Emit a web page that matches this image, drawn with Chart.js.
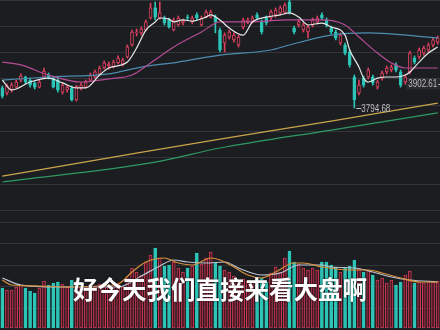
<!DOCTYPE html>
<html>
<head>
<meta charset="utf-8">
<script src="https://cdn.jsdelivr.net/npm/chart.js@4.4.1/dist/chart.umd.min.js"></script>
<style>
  html, body { margin: 0; padding: 0; background: #1c1d21; width: 440px; height: 330px; overflow: hidden; }
  #kline { position: absolute; left: 0; top: 0; width: 440px; height: 222px; }
  #vol { position: absolute; left: 0; top: 222px; width: 440px; height: 108px; }
  #caption {
    position: absolute; left: 0; top: 276px; width: 440px; text-align: center;
    color: #fff; font: bold 24.5px/25px "Noto Sans CJK SC", sans-serif;
    text-shadow: 0 0 2px rgba(0,0,0,0.8);
  }
</style>
</head>
<body>
<div id="kline"><canvas id="klineChart"></canvas></div>
<div id="vol"><canvas id="volChart"></canvas></div>
<div id="caption">好今天我们直接来看大盘啊</div>
<script>
// daily candles
const openP  = [3886,3863,3877,3890,3922,3936,3922,3909,3890,3936,3945,3931,3922,3867,3877,3886,3831,3886,3890,3922,
                3936,3950,3977,3986,3981,4000,3995,4027,4082,4137,4137,4150,4205,4251,4205,4205,4196,4150,4173,4182,
                4209,4187,4219,4173,4209,4209,4209,4150,4091,4118,4105,4082,4164,4187,4191,4219,4187,4205,4205,4219,
                4228,4232,4278,4159,4173,4150,4141,4173,4187,4219,4196,4159,4141,4091,4082,4050,3936,3863,3931,3936,
                3936,3890,3931,3959,3968,3991,3959,3913,3959,4022,4027,4045,4059,4082,4095];
const highP  = [3895,3904,3909,3922,3950,3940,3931,3913,3922,3977,3954,3940,3931,3909,3899,3895,3899,3909,3922,3954,
                3968,3986,4009,4004,4013,4032,4022,4082,4150,4155,4164,4196,4273,4278,4278,4214,4205,4205,4214,4200,
                4219,4214,4228,4214,4241,4241,4219,4159,4137,4150,4137,4127,4205,4205,4214,4228,4196,4214,4241,4251,
                4260,4273,4287,4168,4196,4182,4173,4205,4214,4228,4205,4168,4150,4137,4091,4059,3945,3922,3940,3977,
                3945,3922,3963,3986,3991,4000,3968,3945,4054,4032,4068,4077,4091,4114,4123];
const lowP   = [3840,3854,3867,3886,3913,3904,3890,3881,3886,3931,3927,3886,3867,3858,3867,3826,3826,3877,3886,3918,
                3931,3945,3972,3972,3977,3995,3986,4022,4077,4123,4127,4146,4200,4196,4200,4173,4159,4146,4168,4173,
                4196,4178,4196,4168,4205,4205,4137,4050,4050,4109,4095,4073,4155,4178,4182,4196,4132,4173,4196,4209,
                4219,4223,4223,4132,4164,4141,4114,4164,4178,4196,4164,4132,4105,4082,4036,3981,3794.68,3854,3890,3927,
                3899,3881,3922,3950,3959,3959,3890,3902.61,3950,3995,4018,4036,4050,4073,4086];
const closeP = [3849,3895,3899,3913,3940,3913,3899,3890,3913,3963,3936,3890,3877,3899,3890,3831,3895,3899,3913,3945,
                3959,3977,4000,3995,4004,4022,4013,4073,4141,4141,4155,4187,4251,4209,4228,4182,4164,4196,4205,4191,
                4205,4205,4205,4205,4232,4232,4187,4059,4127,4141,4127,4118,4196,4196,4205,4205,4141,4182,4232,4241,
                4251,4264,4232,4141,4187,4173,4164,4196,4205,4205,4173,4141,4114,4127,4045,3991,3831,3899,3899,3968,
                3909,3913,3954,3977,3981,3968,3899,3936,4045,4004,4059,4068,4082,4105,4114];
const volume = [2000,1900,1900,2050,2150,2000,1850,1750,2000,2350,2150,2250,2300,2200,2050,2400,2350,2050,2050,2150,
                2100,2200,2250,2150,2200,2250,2050,2500,3000,2800,2650,3300,3650,4000,3500,3100,3150,3300,3000,2800,
                3000,3100,3750,3200,3500,3800,3300,3100,2900,2800,2600,2400,2450,2350,2300,2400,2500,2300,2750,3050,
                2800,3500,3850,3300,3200,3000,2900,3000,2900,3300,3300,3150,3050,2800,3000,3100,3400,3000,2800,2900,
                2650,2400,2500,2250,2400,2150,2300,2650,2850,2250,2300,2250,2350,2300,2350];

// moving averages, [day index, value] read at the bends
const ma5Pts   = [[0,3922],[2,3877],[6,3913],[10,3931],[13,3909],[16,3886],[18,3886],[21,3945],[23,3977],[27,4004],
                  [29,4068],[31,4150],[33,4187],[34,4205],[36,4200],[37,4187],[39,4196],[41,4191],[44,4209],[45,4219],
                  [47,4196],[49,4159],[52,4127],[54,4187],[57,4209],[60,4219],[62,4228],[64,4209],[66,4173],[69,4182],
                  [71,4164],[74,4127],[75,4059],[77,3981],[78,3931],[79,3913],[81,3931],[83,3936],[85,3936],[87,3945],
                  [88,3959],[90,4004],[92,4045],[94,4073]];
const ma10Pts  = [[0,4004],[4,3991],[10,3945],[17,3913],[21,3922],[23,3927],[28,3945],[32,4000],[37,4073],[43,4141],
                  [47,4187],[53,4187],[62,4196],[69,4196],[74,4173],[77,4118],[81,4045],[84,4000],[87,3977],[94,3977]];
const ma20Pts  = [[0,3922],[10,3936],[23,3950],[30,3981],[38,4004],[47,4036],[58,4059],[62,4082],[71,4127],[79,4137],[94,4114]];
const ma60Pts  = [[0,3484],[23,3567],[47,3653],[71,3735],[94,3817]];
const ma120Pts = [[0,3457],[33,3548],[47,3612],[71,3694],[94,3772]];
const volMa5Pts  = [[0,2400],[2,2150],[8,2100],[15,2050],[21,2100],[25,2200],[28,2800],[31,3300],[35,3500],[38,3250],
                    [41,3150],[45,3500],[47,3400],[50,3050],[53,2650],[56,2500],[59,2800],[63,3250],[65,3250],[69,3050],
                    [75,2900],[79,2900],[82,2750],[86,2500],[90,2300],[94,2300]];
const volMa10Pts = [[0,2500],[4,2150],[12,2050],[25,2050],[30,2600],[34,3100],[37,3400],[40,3300],[44,3250],[48,3300],
                    [51,3000],[56,2650],[60,2750],[64,3150],[69,3150],[71,3050],[76,3000],[80,2800],[84,2550],[88,2400],[94,2300]];
const marks = [3794.68, 3902.61];

const days = openP.map((_, i) => String(i + 1));
const up = openP.map((o, i) => closeP[i] >= o);
const BG = '#1c1d21', RED = '#d9415f', TEAL = '#2cc5b7', GRID = '#33343a';

function sparse(pts) {
    const a = new Array(days.length).fill(null);
    pts.forEach(([i, v]) => { a[i] = v; });
    return a;
}

function maLine(label, pts, color) {
    return {
        type: 'line', label: label, data: sparse(pts),
        borderColor: color, borderWidth: 1.2, pointRadius: 0,
        spanGaps: true, tension: 0.3, cubicInterpolationMode: 'monotone', order: 0
    };
}

function hiddenX() {
    return { type: 'category', display: false, offset: true };
}

const common = {
    responsive: true,
    maintainAspectRatio: false,
    animation: false,
    events: [],
    layout: { padding: 0 },
    plugins: { legend: { display: false }, tooltip: { enabled: false } }
};

// high / low price labels
const markPlugin = {
    id: 'marks',
    afterDatasetsDraw(chart) {
        const { ctx, chartArea, scales: { x, y } } = chart;
        ctx.save();
        ctx.font = '10px "Liberation Sans", sans-serif';
        ctx.strokeStyle = '#bdbdbd';
        ctx.lineWidth = 1;
        ctx.textBaseline = 'middle';
        marks.forEach((m, k) => {
            const i = lowP.indexOf(m);
            const px = x.getPixelForValue(i);
            const py = Math.round(y.getPixelForValue(m)) + 0.5;
            const txt = m.toFixed(2);
            if (k === 0) {
                ctx.fillStyle = '#bdbdbd';
                ctx.beginPath(); ctx.moveTo(px + 2, py); ctx.lineTo(px + 7, py); ctx.stroke();
                ctx.fillText(txt, px + 7, py + 1, 29);
            } else {
                ctx.fillStyle = 'rgba(255,255,255,0.06)';
                ctx.fillRect(px + 1, py - 6, chartArea.right - px, 11);
                ctx.fillStyle = '#bdbdbd';
                ctx.fillText(txt, px + 3, py, 29);
                ctx.beginPath(); ctx.moveTo(px + 33, py); ctx.lineTo(chartArea.right, py); ctx.stroke();
            }
        });
        ctx.restore();
    }
};

new Chart(document.getElementById('klineChart'), {
    type: 'bar',
    data: {
        labels: days,
        datasets: [
            maLine('MA5', ma5Pts, '#e8e8e8'),
            maLine('MA10', ma10Pts, '#b44c95'),
            maLine('MA20', ma20Pts, '#4c8db0'),
            maLine('MA60', ma60Pts, '#c9a54a'),
            maLine('MA120', ma120Pts, '#2f9a62'),
            {
                label: 'body', data: openP.map((o, i) => [o, closeP[i]]),
                backgroundColor: up.map(u => u ? BG : TEAL),
                borderColor: up.map(u => u ? RED : TEAL),
                borderWidth: 1, borderSkipped: false, barThickness: 3, minBarLength: 1,
                grouped: false, order: 1
            },
            {
                label: 'wick', data: lowP.map((l, i) => [l, highP[i]]),
                backgroundColor: up.map(u => u ? RED : TEAL),
                borderWidth: 0, barThickness: 1, grouped: false, order: 2
            }
        ]
    },
    options: {
        ...common,
        scales: {
            x: hiddenX(),
            y: {
                min: 3274.7, max: 4287,
                afterBuildTicks: ax => {
                    const t = [];
                    for (let v = ax.max; v > ax.min; v -= 120) t.push({ value: v });
                    ax.ticks = t;
                },
                ticks: { display: false },
                grid: { color: GRID, drawTicks: false },
                border: { display: false }
            }
        }
    },
    plugins: [markPlugin]
});

new Chart(document.getElementById('volChart'), {
    type: 'bar',
    data: {
        labels: days,
        datasets: [
            maLine('VOL5', volMa5Pts, '#d8913c'),
            maLine('VOL10', volMa10Pts, '#b8c4d0'),
            {
                label: 'volume', data: volume,
                backgroundColor: up.map(u => u ? '#4a1622' : TEAL),
                borderColor: up.map(u => u ? '#c93a55' : TEAL),
                borderWidth: 1, borderSkipped: false, barThickness: 3, order: 1
            }
        ]
    },
    options: {
        ...common,
        scales: {
            x: hiddenX(),
            y: {
                min: -100, max: 5300,
                ticks: { display: false, stepSize: 1000, includeBounds: false },
                grid: { color: GRID, drawTicks: false },
                border: { display: false }
            }
        }
    }
});
</script>
</body>
</html>
